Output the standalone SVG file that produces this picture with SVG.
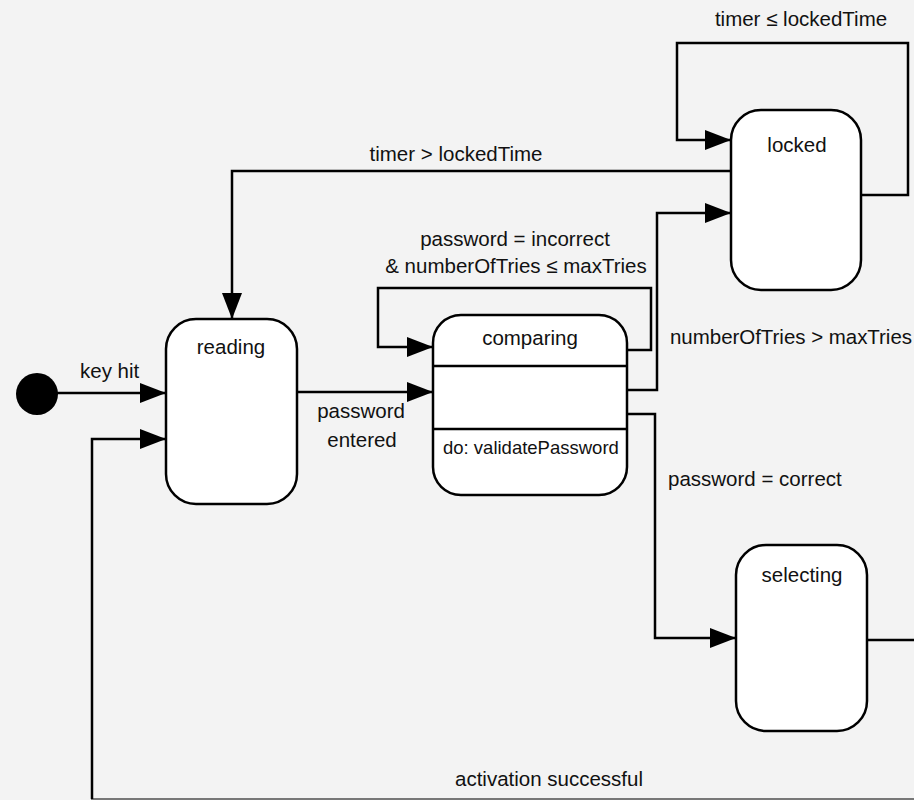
<svg xmlns="http://www.w3.org/2000/svg" width="914" height="800" viewBox="0 0 914 800">
<defs>
<marker id="ah" viewBox="0 0 26 20" refX="26" refY="10" markerWidth="26" markerHeight="20" markerUnits="userSpaceOnUse" orient="auto">
<path d="M0,0 L26,10 L0,20 Z" fill="#000"/>
</marker>
<style>
.st{fill:#fff;stroke:#000;stroke-width:2.5}
.ln{fill:none;stroke:#000;stroke-width:2.5}
.t{font-family:"Liberation Sans","DejaVu Sans",sans-serif;font-size:20.5px;fill:#111}
.s{font-size:18.5px}
.m{text-anchor:middle}
</style>
</defs>
<rect width="914" height="800" fill="#f3f3f3"/>
<line x1="91" y1="799" x2="914" y2="799" stroke="#777" stroke-width="2"/>
<g id="connectors">
<path class="ln" d="M57,393 H166" marker-end="url(#ah)"/>
<path class="ln" d="M92,799 V439 H166" marker-end="url(#ah)"/>
<path class="ln" d="M297,392 H433" marker-end="url(#ah)"/>
<path class="ln" d="M731,171 H232 V319" marker-end="url(#ah)"/>
<path class="ln" d="M861,195 H908 V43 H677 V140 H731" marker-end="url(#ah)"/>
<path class="ln" d="M627,350 H651 V288 H378 V347 H433" marker-end="url(#ah)"/>
<path class="ln" d="M627,390 H657 V213 H731" marker-end="url(#ah)"/>
<path class="ln" d="M627,414 H655 V638 H736" marker-end="url(#ah)"/>
<path class="ln" d="M867,640 H914"/>
</g>
<g id="initial"><circle cx="37" cy="394" r="21" fill="#000"/></g>
<g id="reading">
<rect class="st" x="166" y="319" width="131" height="185" rx="30"/>
<text class="t m" x="231" y="354">reading</text>
</g>
<g id="comparing">
<rect class="st" x="433" y="315" width="194" height="180" rx="28"/>
<line class="ln" x1="433" y1="366" x2="627" y2="366"/>
<line class="ln" x1="433" y1="429" x2="627" y2="429"/>
<text class="t m" x="530" y="345">comparing</text>
<text class="t s" x="443" y="454">do: validatePassword</text>
</g>
<g id="locked">
<rect class="st" x="731" y="110" width="130" height="180" rx="30"/>
<text class="t m" x="797" y="152">locked</text>
</g>
<g id="selecting">
<rect class="st" x="736" y="545" width="131" height="186" rx="30"/>
<text class="t m" x="802" y="582">selecting</text>
</g>
<g id="labels">
<text class="t" x="80" y="378">key hit</text>
<text class="t m" x="361" y="418">password</text>
<text class="t m" x="362" y="447">entered</text>
<text class="t m" x="456" y="161">timer &gt; lockedTime</text>
<text class="t m" x="801" y="26">timer ≤ lockedTime</text>
<text class="t m" x="515" y="246">password = incorrect</text>
<text class="t m" x="516" y="273">&amp; numberOfTries ≤ maxTries</text>
<text class="t" x="670" y="344" textLength="242">numberOfTries &gt; maxTries</text>
<text class="t" x="668" y="486">password = correct</text>
<text class="t" x="455" y="786">activation successful</text>
</g>
</svg>
